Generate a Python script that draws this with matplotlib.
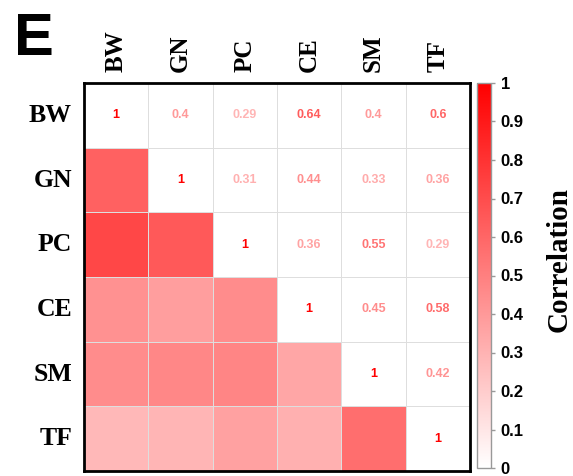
import numpy as np
import matplotlib
matplotlib.use('Agg')
import matplotlib.pyplot as plt
from matplotlib.colors import LinearSegmentedColormap

labels = ['BW', 'GN', 'PC', 'CE', 'SM', 'TF']

# upper triangle (shown as text), row by row starting at the diagonal
upper_rows = [
    [1, 0.4, 0.29, 0.64, 0.4, 0.6],
    [1, 0.31, 0.44, 0.33, 0.36],
    [1, 0.36, 0.55, 0.29],
    [1, 0.45, 0.58],
    [1, 0.42],
    [1],
]
lower_rows = [
    [],
    [0.62],
    [0.72, 0.65],
    [0.43, 0.38, 0.45],
    [0.45, 0.47, 0.48, 0.35],
    [0.28, 0.29, 0.37, 0.31, 0.57],
]
cbar_ticks = [0, 0.1, 0.2, 0.3, 0.4, 0.5, 0.6, 0.7, 0.8, 0.9, 1]

n = len(labels)
cmap = LinearSegmentedColormap.from_list('wr', ['#ffffff', '#ff0000'])

# matrix for the cells: white on and above the diagonal
cells = np.zeros((n, n))
for i, row in enumerate(lower_rows):
    for j, v in enumerate(row):
        cells[i, j] = v

fig = plt.figure(figsize=(5.73, 4.76), dpi=100)
ax = fig.add_axes([0.1466, 0.0105, 0.6736, 0.8151])
mesh = ax.pcolormesh(cells, cmap=cmap, vmin=0, vmax=1,
                     edgecolors='#dedede', linewidth=0.7)
ax.set_xlim(0, n)
ax.set_ylim(n, 0)

for i, row in enumerate(upper_rows):
    for k, v in enumerate(row):
        j = i + k
        ax.text(j + 0.5, i + 0.5, '{:g}'.format(v), ha='center', va='center',
                fontsize=9, fontweight='bold', family='Liberation Sans',
                color=cmap(float(v)))

ax.set_xticks([])
ax.set_yticks([])
for s in ax.spines.values():
    s.set_linewidth(2)
    s.set_color('black')

# column labels on top, rows on the left
for j, lab in enumerate(labels):
    ax.annotate(lab, xy=(j + 0.5, 0), xycoords='data', xytext=(0, 11),
                textcoords='offset pixels', rotation=90, ha='center', va='bottom',
                fontsize=18, fontweight='bold', family='Liberation Serif')
for i, lab in enumerate(labels):
    ax.annotate(lab, xy=(0, i + 0.5), xycoords='data', xytext=(-12, 0),
                textcoords='offset pixels', ha='right', va='center',
                fontsize=18.5, fontweight='bold', family='Liberation Serif')

# colour bar
cax = fig.add_axes([0.8325, 1 - 468 / 476, 0.0244, 385 / 476])
cb = fig.colorbar(mesh, cax=cax)
cb.set_ticks(cbar_ticks)
cb.set_ticklabels(['{:g}'.format(t) for t in cbar_ticks])
cb.outline.set_edgecolor('#999999')
cb.outline.set_linewidth(1)
cax.tick_params(length=3, width=1, color='#999999', pad=4)
for t in cax.get_yticklabels():
    t.set_fontsize(12)
    t.set_fontweight('bold')
    t.set_family('Liberation Sans')

fig.text(559 / 573, 1 - 260 / 476, 'Correlation', rotation=90, ha='center',
         va='center', fontsize=21, fontweight='bold', family='Liberation Serif')

fig.text(0.0245, 1 - 55 / 476, 'E', fontsize=43, fontweight='bold',
         family='Liberation Sans', ha='left', va='baseline')

fig.savefig('out.png', dpi=100)
